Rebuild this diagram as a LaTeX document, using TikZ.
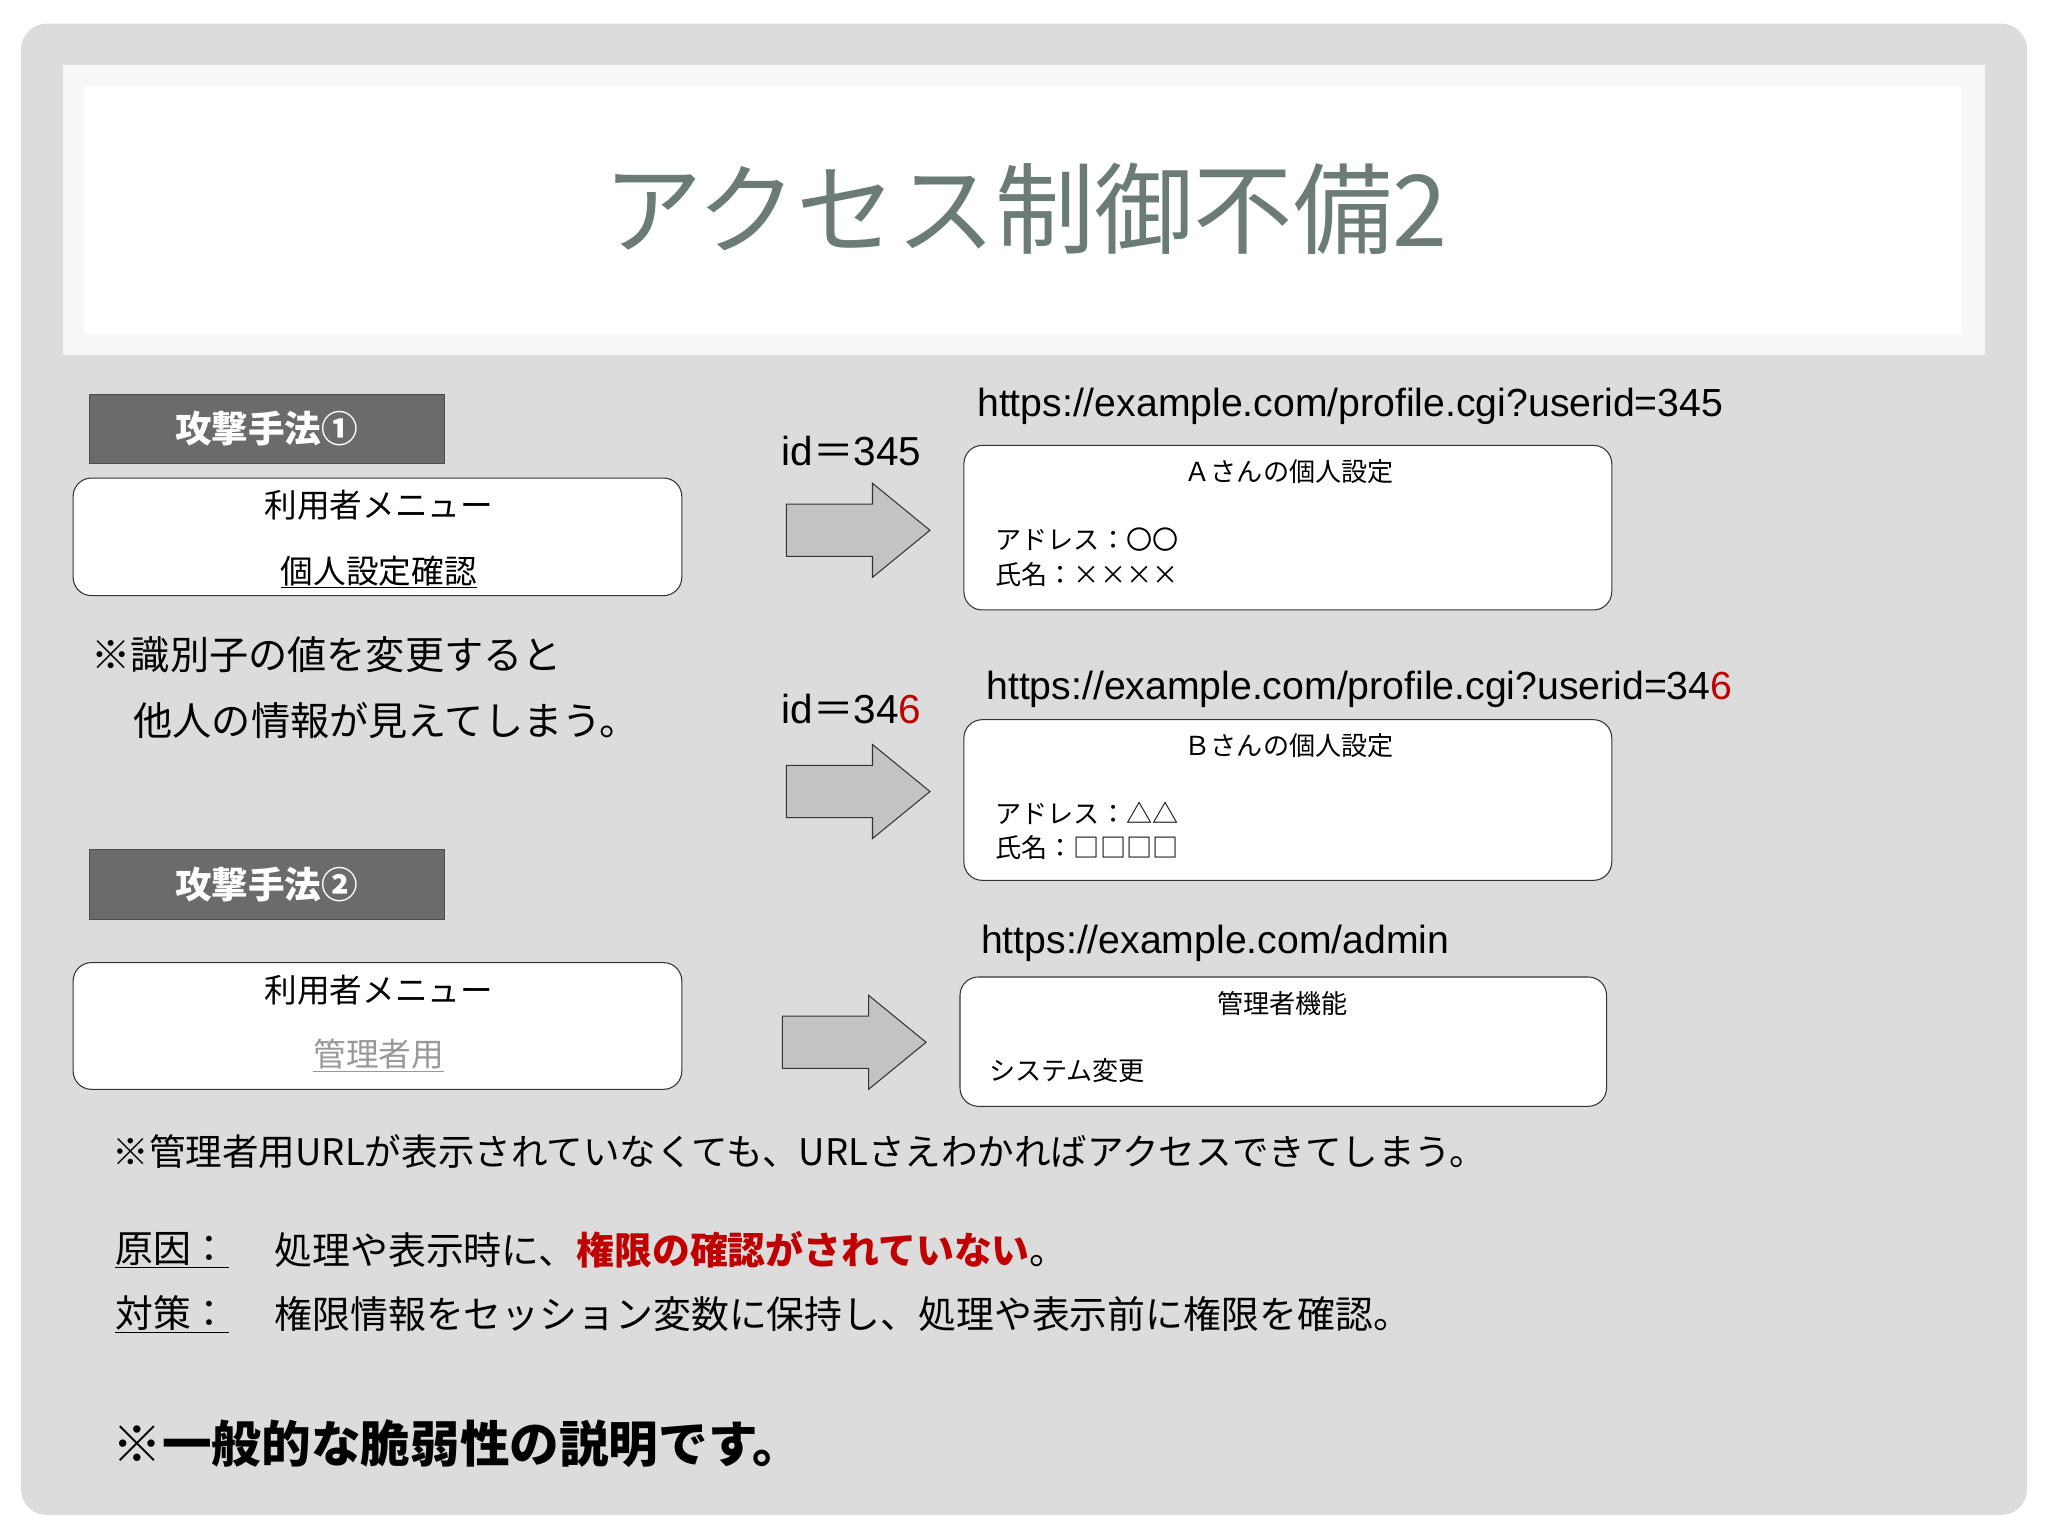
\documentclass[tikz,border=0pt]{standalone}
\usepackage{fontspec}
\setmainfont{Noto Sans CJK JP}
\newfontfamily\urlf{Liberation Sans}
\newfontfamily\jpf{Noto Sans CJK JP}
\definecolor{bgc}{HTML}{DCDCDC}
\definecolor{titlec}{HTML}{6B7B76}
\definecolor{darkbox}{HTML}{6B6B6B}
\definecolor{arrowc}{HTML}{C3C3C3}
\definecolor{redc}{HTML}{C00000}
\newcommand{\fs}[1]{\fontsize{#1}{#1}\selectfont}
\tikzset{
  wbox/.style={draw=black!80, line width=0.8pt, fill=white, rounded corners=14pt},
  dbox/.style={draw=black!70, fill=darkbox, text=white, font=\fs{28}\bfseries, minimum width=272pt, minimum height=53pt, inner sep=0pt},
  txt/.style={anchor=west, inner sep=0pt},
  arr/.style={draw=black!80, line width=0.8pt, fill=arrowc},
}
\begin{document}
\begin{tikzpicture}[x=1pt,y=-1pt]
\useasboundingbox (0,0) rectangle (1568,1176);
\fill[white] (0,0) rectangle (1568,1176);
\fill[bgc, rounded corners=20pt] (16,18) rectangle (1552,1160);
\fill[white!97!black] (48,50) rectangle (1520,272);
\fill[white] (64,66) rectangle (1502,256);
\node[text=titlec, font=\fs{76}] (title) at (785,160) {アクセス制御不備2};

% method 1
\node[dbox] (m1) at (204,328) {攻撃手法①};
\draw[wbox] (56,366) rectangle (522,456);
\node[font=\fs{25}] (u1) at (290,387) {利用者メニュー};
\node[font=\fs{25}] (p1) at (290,438) {\underline{個人設定確認}};
\node[txt, font=\fs{30}] (n1) at (70,501) {※識別子の値を変更すると};
\node[txt, font=\fs{30}] (n2) at (102,552) {他人の情報が見えてしまう。};

% method 2
\node[dbox] (m2) at (204,677) {攻撃手法②};
\draw[wbox] (56,737) rectangle (522,834);
\node[font=\fs{25}] (u2) at (290,758) {利用者メニュー};
\node[font=\fs{25}, text=black!40] (a2) at (290,808) {\underline{管理者用}};

% arrows
\foreach \x/\y in {602/406, 602/606, 599/798}{
  \draw[arr] (\x,\y-20) -- (\x+66,\y-20) -- (\x+66,\y-36) -- (\x+110,\y) -- (\x+66,\y+36) -- (\x+66,\y+20) -- (\x,\y+20) -- cycle;
}
\node[font=\urlf\fs{31}] (id1) at (652,345) {id{\jpf ＝}345};
\node[font=\urlf\fs{31}] (id2) at (652,543) {id{\jpf ＝}34\textcolor{redc}{6}};

% result boxes
\node[txt, font=\urlf\fs{30}] (url1) at (748,311) {https://example.com/profile.cgi?userid=345};
\draw[wbox] (738,341) rectangle (1234,467);
\node[font=\fs{20}] (t1) at (987,361) {Ａさんの個人設定};
\node[txt, font=\fs{20}] (ad1) at (762,413) {アドレス：〇〇};
\node[txt, font=\fs{20}] (nm1) at (762,440) {氏名：××××};

\node[txt, font=\urlf\fs{30}] (url2) at (755,528) {https://example.com/profile.cgi?userid=34\textcolor{redc}{6}};
\draw[wbox] (738,551) rectangle (1234,674);
\node[font=\fs{20}] (t2) at (987,571) {Ｂさんの個人設定};
\node[txt, font=\fs{20}] (ad2) at (762,623) {アドレス：△△};
\node[txt, font=\fs{20}] (nm2) at (762,649) {氏名：□□□□};

\node[txt, font=\urlf\fs{30}] (url3) at (751,722) {https://example.com/admin};
\draw[wbox] (735,748) rectangle (1230,847);
\node[font=\fs{20}] (t3) at (982,768) {管理者機能};
\node[txt, font=\fs{20}] (sy) at (757,820) {システム変更};

% bottom text
\node[txt, font=\fs{28}] (b1) at (86,882) {※管理者用URLが表示されていなくても、URLさえわかればアクセスできてしまう。};
\node[txt, font=\fs{29}] (c1) at (88,957) {\underline{原因：}};
\node[txt, font=\fs{29}] (c2) at (210,957) {処理や表示時に、\textcolor{redc}{\bfseries 権限の確認がされていない}。};
\node[txt, font=\fs{29}] (d1) at (88,1006) {\underline{対策：}};
\node[txt, font=\fs{29}] (d2) at (210,1006) {権限情報をセッション変数に保持し、処理や表示前に権限を確認。};
\node[txt, font=\fs{38}\bfseries] (last) at (86,1105) {※一般的な脆弱性の説明です。};
\end{tikzpicture}
\end{document}
